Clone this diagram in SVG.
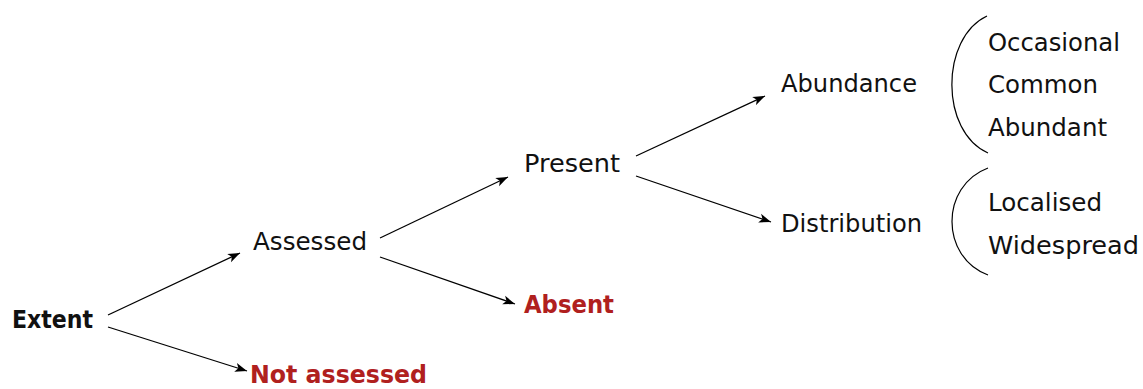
<svg xmlns="http://www.w3.org/2000/svg" width="1143" height="389" viewBox="0 0 1143 389">
<defs>
<marker id="ah" viewBox="0 0 12 10" refX="12" refY="5" markerWidth="12" markerHeight="10" markerUnits="userSpaceOnUse" orient="auto">
<path d="M0,0.5 L12,5 L0,9.5 L3,5 Z" fill="#000"/>
</marker>
<style>
text{font-family:"DejaVu Sans","Liberation Sans",sans-serif;font-size:24px;fill:#111}
.b{font-weight:bold}
.r{fill:#B0201E;font-weight:bold}
.c{fill:none;stroke:#000;stroke-width:1.3;marker-end:url(#ah)}
.br{fill:none;stroke:#000;stroke-width:1.2}
</style>
</defs>
<g id="connectors">
<line class="c" x1="108" y1="315" x2="240" y2="253"/>
<line class="c" x1="108" y1="327" x2="247" y2="371"/>
<line class="c" x1="380" y1="238" x2="508" y2="177"/>
<line class="c" x1="380" y1="257" x2="515" y2="304"/>
<line class="c" x1="636" y1="156" x2="765" y2="96"/>
<line class="c" x1="636" y1="176" x2="771" y2="222"/>
</g>
<g id="extent"><text class="b" x="12" y="328" textLength="81" lengthAdjust="spacingAndGlyphs">Extent</text></g>
<g id="assessed"><text x="253" y="250" textLength="114" lengthAdjust="spacingAndGlyphs">Assessed</text></g>
<g id="not-assessed"><text class="r" x="250" y="383" textLength="177" lengthAdjust="spacingAndGlyphs">Not assessed</text></g>
<g id="present"><text x="524" y="172" textLength="96" lengthAdjust="spacingAndGlyphs">Present</text></g>
<g id="absent"><text class="r" x="524" y="313" textLength="90" lengthAdjust="spacingAndGlyphs">Absent</text></g>
<g id="abundance"><text x="781" y="92" textLength="136" lengthAdjust="spacingAndGlyphs">Abundance</text></g>
<g id="distribution"><text x="781" y="232" textLength="141" lengthAdjust="spacingAndGlyphs">Distribution</text></g>
<g id="abundance-levels">
<path class="br" d="M987,16 C940,38 940,132 988,153"/>
<text x="988" y="51" textLength="132" lengthAdjust="spacingAndGlyphs">Occasional</text>
<text x="988" y="93" textLength="110" lengthAdjust="spacingAndGlyphs">Common</text>
<text x="988" y="136" textLength="119" lengthAdjust="spacingAndGlyphs">Abundant</text>
</g>
<g id="distribution-levels">
<path class="br" d="M988,168 C940,186 940,257 988,275"/>
<text x="988" y="211" textLength="114" lengthAdjust="spacingAndGlyphs">Localised</text>
<text x="988" y="254" textLength="151" lengthAdjust="spacingAndGlyphs">Widespread</text>
</g>
</svg>
